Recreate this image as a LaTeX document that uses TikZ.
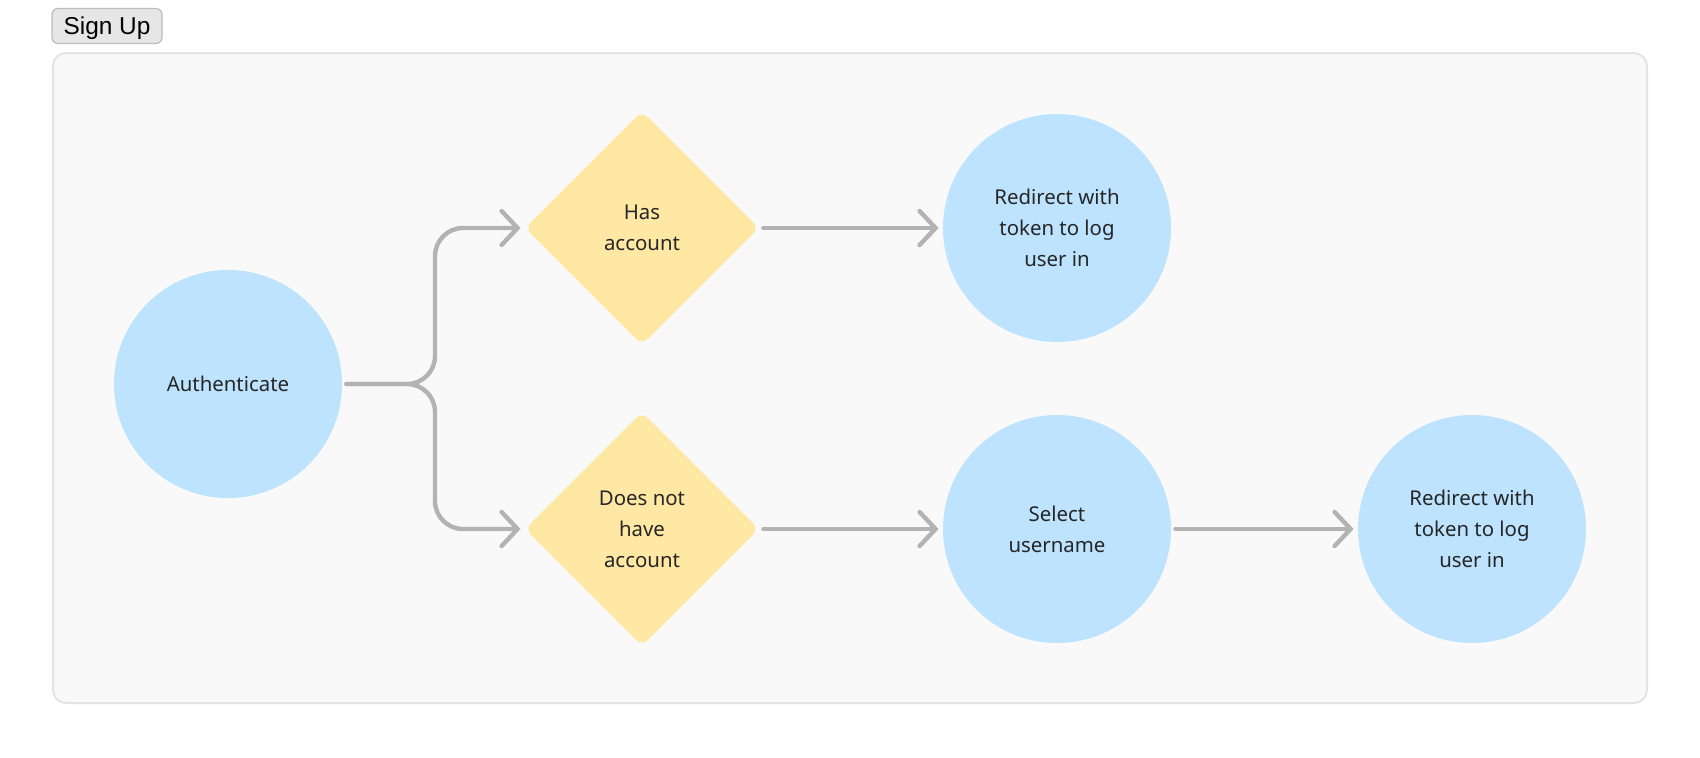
\documentclass[tikz,border=0pt]{standalone}
\usepackage{fontspec}
\setmainfont{Noto Sans}
\newfontfamily\btnfont{Liberation Sans}
\usetikzlibrary{shapes.geometric,arrows.meta}
\definecolor{circfill}{HTML}{BDE3FF}
\definecolor{diafill}{HTML}{FFE8A3}
\definecolor{linegray}{HTML}{B3B3B3}
\definecolor{txt}{HTML}{262626}
\definecolor{panelfill}{HTML}{F9F9F9}
\definecolor{panelline}{HTML}{E4E4E4}
\definecolor{btnfill}{HTML}{E6E6E6}
\definecolor{btnline}{HTML}{BDBDBD}
\begin{document}
\begin{tikzpicture}[x=0.5pt,y=-0.5pt,
  lbl/.style={align=center,text=txt,font=\fontsize{10.2}{15.5}\selectfont},
  circ/.style={lbl,circle,fill=circfill,minimum size=114pt,inner sep=0pt},
  dia/.style={lbl,diamond,aspect=1,fill=diafill,minimum width=117pt,minimum height=117pt,inner sep=0pt,rounded corners=4pt},
  flow/.style={draw=linegray,line width=2.2pt,line cap=round,line join=round,
    -{Straight Barb[length=8pt,width=17pt,line cap=round]},shorten >=2pt,shorten <=2pt},
  panel/.style={draw=panelline,fill=panelfill,line width=1pt,rounded corners=6.5pt,inner sep=0pt},
  btn/.style={draw=btnline,fill=btnfill,line width=0.6pt,rounded corners=3pt,inner sep=0pt,
    minimum width=55pt,minimum height=17.5pt,text depth=0pt,font=\btnfont\fontsize{12.2}{14}\selectfont}
]
\useasboundingbox[fill=white] (0,0) rectangle (1700,757);
\node[panel,minimum width=797pt,minimum height=325pt] (panel) at (850,378) {};
\node[btn] (signup) at (107,26) {Sign Up};

\node[circ] (auth) at (228,384) {Authenticate};
\node[dia] (has) at (642,228) {Has\\account};
\node[dia] (hasnot) at (642,529) {Does not\\have\\account};
\node[circ] (redir1) at (1057,228) {Redirect with\\token to log\\user in};
\node[circ] (select) at (1057,529) {Select\\username};
\node[circ] (redir2) at (1472,529) {Redirect with\\token to log\\user in};

\coordinate (fork) at (435,384);
\draw[flow,rounded corners=14pt] (auth.east) -- (fork) |- (has.west);
\draw[flow,rounded corners=14pt] (auth.east) -- (fork) |- (hasnot.west);
\draw[flow] (has.east) -- (redir1.west);
\draw[flow] (hasnot.east) -- (select.west);
\draw[flow] (select.east) -- (redir2.west);
\end{tikzpicture}
\end{document}
